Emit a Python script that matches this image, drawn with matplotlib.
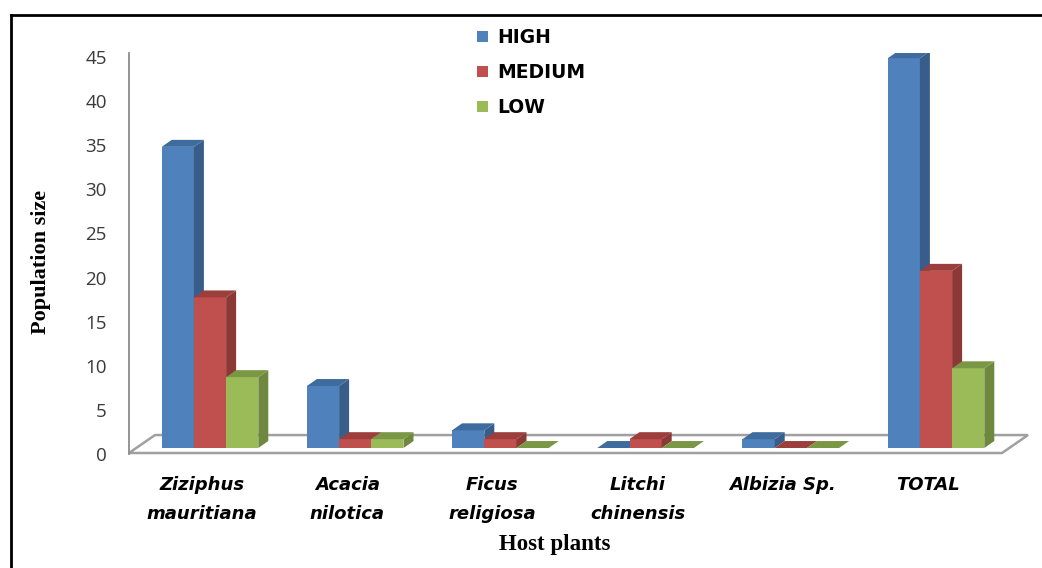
import numpy as np
import matplotlib
matplotlib.use('Agg')
import matplotlib.pyplot as plt
from matplotlib.patches import Polygon, Patch
from matplotlib.lines import Line2D

categories = ['Ziziphus\nmauritiana', 'Acacia\nnilotica', 'Ficus\nreligiosa',
              'Litchi\nchinensis', 'Albizia Sp.', 'TOTAL']
high = [34, 7, 2, 0, 1, 44]
medium = [17, 1, 1, 1, 0, 20]
low = [8, 1, 0, 0, 0, 9]
series_names = ['HIGH', 'MEDIUM', 'LOW']
yticks = [0, 5, 10, 15, 20, 25, 30, 35, 40, 45]

# front / side / top shades, Excel 2007 style
front = ['#4F81BD', '#C0504D', '#9BBB59']
side = ['#385D8A', '#8C3836', '#6E883F']
top = ['#3F6C9E', '#9C3E3B', '#7A9746']

W, H = 1042, 568
px_x = 145.2   # pixels per category
px_y = 8.88    # pixels per unit
x0_px = 210    # first group centre
y0_px = 449    # value 0 on the bar fronts

fig = plt.figure(figsize=(W / 100, H / 100), dpi=100)
ax = fig.add_axes([129 / W, 1 - 454 / H, (1030 - 129) / W, (454 - 53) / H])
ax.set_xlim((129 - x0_px) / px_x, (1030 - x0_px) / px_x)
ax.set_ylim((y0_px - 454) / px_y, (y0_px - 53) / px_y)

for s in ['top', 'right', 'bottom']:
    ax.spines[s].set_visible(False)
ax.spines['left'].set_color('#8c8c8c')
ax.spines['left'].set_linewidth(1.3)

# floor
fx = lambda p: (p - x0_px) / px_x
fy = lambda p: (y0_px - p) / px_y
floor = Polygon([(fx(129), fy(454)), (fx(1002), fy(454)), (fx(1028), fy(436)), (fx(155), fy(436))],
                closed=True, facecolor='white', edgecolor='#a0a0a0', lw=1.8, zorder=1, clip_on=False)
ax.add_patch(floor)

x = np.arange(len(categories))
w = 32.2 / px_x
dx = 10 / px_x
dy = 7 / px_y
data = [high, medium, low]

z = 2
for i in range(len(categories)):
    for j in range(3):
        h = data[j][i]
        left = x[i] + (j - 1.5) * w
        ax.bar(left, h, width=w, align='edge', color=front[j], zorder=z, linewidth=0)
        ax.add_patch(Polygon([(left + w, 0), (left + w + dx, dy), (left + w + dx, h + dy), (left + w, h)],
                             closed=True, facecolor=side[j], lw=0, zorder=z + 0.1))
        ax.add_patch(Polygon([(left, h), (left + dx, h + dy), (left + w + dx, h + dy), (left + w, h)],
                             closed=True, facecolor=top[j], lw=0, zorder=z + 0.2))
        z += 1

# y ticks sit on the wall scale
ytick_pos = [(8.844 * v - 6) / px_y for v in yticks]
ax.set_yticks(ytick_pos, [str(v) for v in yticks])
ax.tick_params(axis='y', length=0, pad=16, labelsize=13.5, labelcolor='#3a3a3a')
for lbl in ax.get_yticklabels():
    lbl.set_family('Open Sans')

ax.set_xticks(x - 8 / px_x, categories)
ax.tick_params(axis='x', length=0, pad=16)
for lbl in ax.get_xticklabels():
    lbl.set_fontsize(13)
    lbl.set_fontweight('bold')
    lbl.set_fontstyle('italic')
    lbl.set_linespacing(1.75)

ax.set_ylabel('Population size', family='Liberation Serif', fontweight='bold', fontsize=16)
ax.yaxis.set_label_coords((51 - 129) / 901, (454 - 262) / 401)
ax.set_xlabel('Host plants', family='Liberation Serif', fontweight='bold', fontsize=16.5)
ax.xaxis.set_label_coords((555 - 129) / 901, (454 - 534) / 401)

handles = [Patch(facecolor=c, edgecolor='none') for c in front]
fig.legend(handles, series_names, loc='upper left', bbox_to_anchor=(468 / W, 1 - 19 / H),
           frameon=False, borderpad=0, handlelength=0.55, handleheight=0.55,
           handletextpad=0.5, labelspacing=0.85,
           prop={'weight': 'bold', 'size': 13.5})

# outer frame (left and top only)
fig.add_artist(Line2D([11 / W, 11 / W], [0, 1 - 15 / H], transform=fig.transFigure, color='black', lw=2))
fig.add_artist(Line2D([11 / W, 1], [1 - 15 / H, 1 - 15 / H], transform=fig.transFigure, color='black', lw=2))

fig.savefig('out.png', dpi=100)
